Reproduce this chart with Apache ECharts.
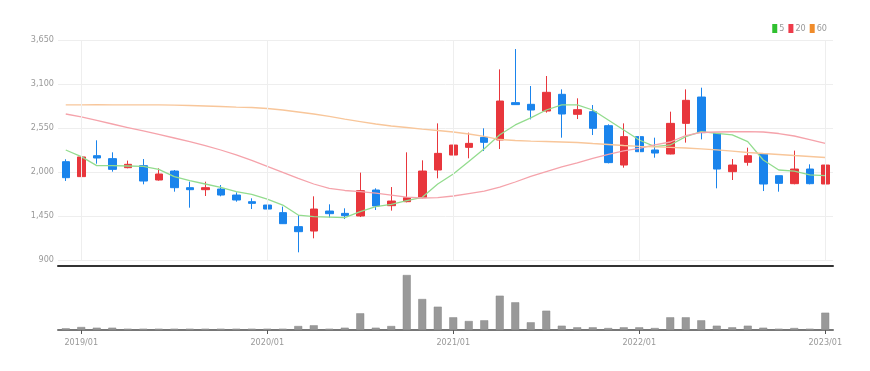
<!DOCTYPE html>
<html>
<head>
<meta charset="utf-8">
<script src="https://cdn.jsdelivr.net/npm/echarts@6/dist/echarts.min.js"></script>
<style>
html,body{margin:0;padding:0;background:#fff;}
#chart{width:870px;height:371px;}
</style>
</head>
<body>
<div id="chart"></div>
<script>
var categories = ['2018/12',
  '2019/01','2019/02','2019/03','2019/04','2019/05','2019/06','2019/07','2019/08','2019/09','2019/10','2019/11','2019/12',
  '2020/01','2020/02','2020/03','2020/04','2020/05','2020/06','2020/07','2020/08','2020/09','2020/10','2020/11','2020/12',
  '2021/01','2021/02','2021/03','2021/04','2021/05','2021/06','2021/07','2021/08','2021/09','2021/10','2021/11','2021/12',
  '2022/01','2022/02','2022/03','2022/04','2022/05','2022/06','2022/07','2022/08','2022/09','2022/10','2022/11','2022/12',
  '2023/01'];

// [open, close, low, high]
var ohlc = [
  [2129,1929,1888,2159],
  [1942,2188,1859,2204],
  [2204,2175,2104,2396],
  [2167,2033,2004,2246],
  [2054,2096,2046,2142],
  [2079,1887,1846,2162],
  [1900,1975,1892,2046],
  [2012,1804,1754,2025],
  [1804,1779,1554,1879],
  [1779,1804,1700,1879],
  [1787,1712,1696,1837],
  [1712,1650,1629,1746],
  [1629,1608,1537,1671],
  [1587,1537,1525,1662],
  [1492,1354,1350,1567],
  [1317,1254,996,1462],
  [1262,1537,1171,1696],
  [1512,1479,1429,1596],
  [1483,1454,1412,1546],
  [1450,1767,1437,1992],
  [1775,1575,1525,1796],
  [1579,1637,1517,1812],
  [1629,1679,1621,2246],
  [1679,2012,1671,2146],
  [2025,2233,1921,2608],
  [2212,2337,2108,2504],
  [2308,2358,2171,2492],
  [2433,2371,2262,2546],
  [2400,2887,2287,3283],
  [2867,2842,2842,3537],
  [2846,2775,2658,3075],
  [2762,2996,2742,3200],
  [2971,2725,2429,3033],
  [2721,2779,2662,2921],
  [2754,2546,2462,2837],
  [2579,2117,2108,2596],
  [2087,2442,2054,2608],
  [2442,2254,2150,2596],
  [2275,2237,2179,2429],
  [2225,2608,2221,2754],
  [2608,2896,2367,3033],
  [2937,2492,2408,3054],
  [2483,2037,1796,2483],
  [2004,2087,1900,2162],
  [2121,2204,2079,2304],
  [2225,1850,1762,2225],
  [1954,1858,1754,1954],
  [1854,2037,1846,2267],
  [2037,1854,1846,2096],
  [1850,2087,1796,2450]
];

var ma5 = [2275,2192,2079,2079,2075,2070,2033,1942,1892,1850,1808,1754,1721,1662,1587,1462,1442,1437,1429,1504,
  1567,1596,1642,1683,1850,1975,2130,2290,2465,2588,2676,2775,2838,2838,2775,2650,2525,2400,2317,2338,
  2442,2504,2483,2463,2379,2150,2025,2012,1963,1954];

var ma20 = [2725,2688,2644,2600,2556,2513,2469,2425,2381,2331,2275,2213,2144,2069,1994,1919,1850,1794,1769,1754,
  1737,1712,1687,1675,1679,1700,1731,1762,1812,1875,1944,2006,2063,2113,2169,2219,2263,2294,2338,2375,
  2456,2494,2500,2503,2504,2500,2481,2450,2406,2358];

var ma60 = [2838,2838,2841,2840,2838,2838,2838,2835,2831,2825,2819,2812,2806,2794,2775,2750,2725,2694,2662,2631,
  2600,2575,2556,2537,2519,2500,2475,2444,2406,2394,2387,2381,2375,2369,2356,2344,2331,2321,2315,2309,
  2300,2290,2277,2262,2244,2231,2219,2206,2194,2181];

var volume = [170,300,230,230,130,130,130,130,130,130,130,130,130,130,130,400,470,130,230,1670,
  230,400,5500,3100,2330,1270,900,970,3430,2770,770,1930,430,270,270,200,270,270,200,1270,
  1270,970,430,270,430,230,130,200,130,1730];

var yTicks = [900, 1450, 2000, 2550, 3100, 3650];
var yearLabels = ['2019/01','2020/01','2021/01','2022/01','2023/01'];
var maNames = ['5','20','60'];

var FONT = "'DejaVu Sans Condensed','Liberation Sans',sans-serif";
var UP = '#e8363c', DOWN = '#1a84ec';

function isYear(idx, val){ return yearLabels.indexOf(val) >= 0; }
function fmt(v){ return String(v).replace(/\B(?=(\d{3})+(?!\d))/g, ','); }

var chart = echarts.init(document.getElementById('chart'), null, {renderer:'canvas'});
chart.setOption({
  animation: false,
  backgroundColor: '#fff',
  legend: {
    right: 38, top: 19,
    itemWidth: 5, itemHeight: 9, itemGap: 4,
    icon: 'rect',
    textStyle: {color:'#999', fontSize: 9, fontFamily: FONT, padding:[0,0,0,-3]},
    data: [
      {name: maNames[0], itemStyle:{color:'#2fc02f'}},
      {name: maNames[1], itemStyle:{color:'#ee3b4a'}},
      {name: maNames[2], itemStyle:{color:'#f08c2a'}}
    ]
  },
  grid: [
    {left: 58, right: 37, top: 40, height: 220},
    {left: 58, right: 37, top: 270, height: 60}
  ],
  xAxis: [
    {type:'category', gridIndex:0, data: categories, boundaryGap: true,
     offset: 6,
     axisLine:{show:true, lineStyle:{color:'#333', width:2}},
     axisTick:{show:false}, axisLabel:{show:false}, splitLine:{show:false}},
    {type:'category', gridIndex:1, data: categories, boundaryGap: true,
     axisLine:{show:true, lineStyle:{color:'#777', width:2}},
     axisTick:{show:true, alignWithLabel:true, interval: isYear, length:4, lineStyle:{color:'#555'}},
     axisLabel:{show:true, interval: isYear, color:'#999', fontSize:9, fontFamily:FONT, margin:8},
     splitLine:{show:false}}
  ],
  yAxis: [
    {type:'value', gridIndex:0, min: yTicks[0], max: yTicks[yTicks.length-1], interval: 550,
     axisLine:{show:false}, axisTick:{show:false},
     axisLabel:{color:'#999', fontSize:9, fontFamily:FONT, margin:4, formatter: fmt},
     splitLine:{show:true, lineStyle:{color:'#eeeeee'}}},
    {type:'value', gridIndex:1, min:0, max:6000, show:false, splitLine:{show:false}}
  ],
  series: [
    {type:'candlestick', name:'price', xAxisIndex:0, yAxisIndex:0, data: ohlc, barWidth: 8,
     itemStyle:{color:UP, color0:DOWN, borderColor:UP, borderColor0:DOWN, borderWidth:1},
     markLine:{silent:true, symbol:['none','none'], label:{show:false},
       lineStyle:{color:'#eeeeee', type:'solid', width:1},
       data: yearLabels.map(function(c){ return {xAxis: c}; })}
    },
    {type:'line', name: maNames[0], data: ma5, showSymbol:false, smooth:false,
     itemStyle:{color:'#2fc02f'}, lineStyle:{color:'#93dc8e', width:1.3}, z:3},
    {type:'line', name: maNames[1], data: ma20, showSymbol:false, smooth:false,
     itemStyle:{color:'#ee3b4a'}, lineStyle:{color:'#f5a3ab', width:1.3}, z:3},
    {type:'line', name: maNames[2], data: ma60, showSymbol:false, smooth:false,
     itemStyle:{color:'#f08c2a'}, lineStyle:{color:'#f8c69a', width:1.3}, z:3},
    {type:'bar', name:'volume', xAxisIndex:1, yAxisIndex:1, data: volume, barWidth: 8,
     itemStyle:{color:'#999999', borderColor:'#888', borderWidth:0.5}}
  ]
});
</script>
</body>
</html>
